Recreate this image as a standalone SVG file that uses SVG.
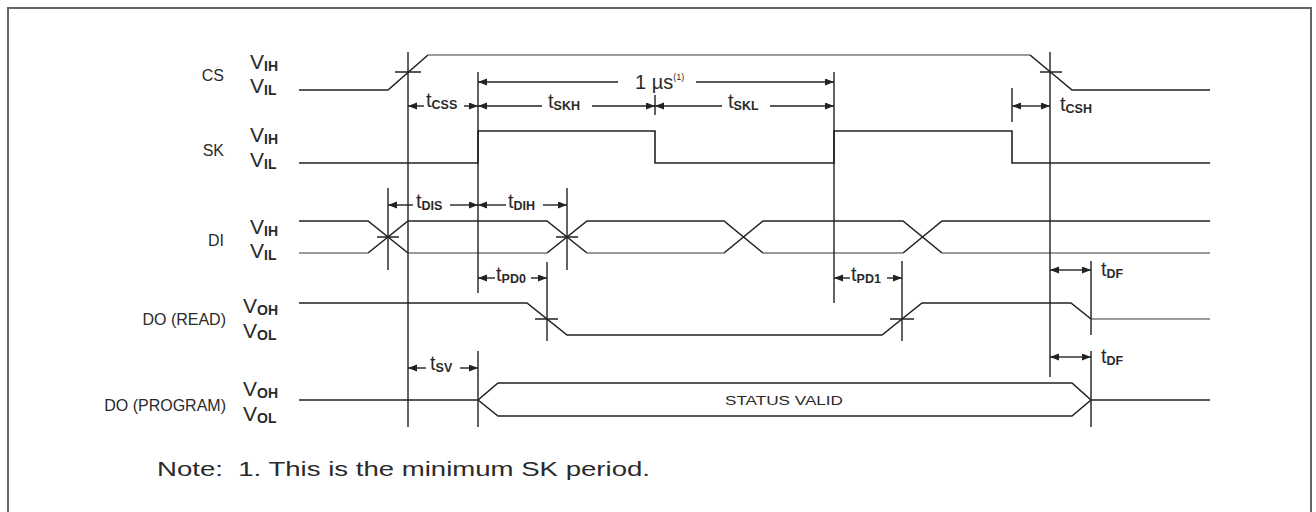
<svg xmlns="http://www.w3.org/2000/svg" width="1316" height="512" viewBox="0 0 1316 512">
<style>
  .sig{fill:none;stroke:#222;stroke-width:1.6;stroke-linejoin:miter}
  .gry{fill:none;stroke:#7a7a7a;stroke-width:1.6}
  .ref{fill:none;stroke:#222;stroke-width:1.4}
  .arr{fill:none;stroke:#222;stroke-width:1.4;marker-end:url(#ah)}
  .lbl{font-family:"Liberation Sans",Arial,sans-serif;font-size:16px;fill:#2a2a2a;text-anchor:end}
  .v{font-family:"Liberation Sans",Arial,sans-serif;font-size:21px;fill:#2a2a2a}
  .vs{font-size:14px;font-weight:bold}
  .t{font-family:"Liberation Sans",Arial,sans-serif;font-size:20px;fill:#2a2a2a}
  .ts{font-size:12.5px;font-weight:bold}
  .note{font-family:"Liberation Sans",Arial,sans-serif;font-size:21px;fill:#2a2a2a}
  .bus{font-family:"Liberation Sans",Arial,sans-serif;font-size:12.5px;fill:#2a2a2a}
</style>
<defs>
  <marker id="ah" markerUnits="userSpaceOnUse" markerWidth="10" markerHeight="8" refX="9" refY="3.5" orient="auto">
    <path d="M0,0 L9,3.5 L0,7 z" fill="#222"/>
  </marker>
</defs>
<rect x="0" y="0" width="1316" height="512" fill="#fff"/>
<path d="M8,520 V8 H1311 V520" fill="none" stroke="#666" stroke-width="2"/>

<g id="cs">
  <text class="lbl" x="224" y="81">CS</text>
  <text class="v" x="250" y="69">V<tspan class="vs" dy="2">IH</tspan></text>
  <text class="v" x="250" y="93">V<tspan class="vs" dy="2">IL</tspan></text>
  <path class="sig" d="M299,90 H388 L428,55"/>
  <path class="gry" d="M428,55 H1030"/>
  <path class="sig" d="M1030,55 L1072,90 H1210"/>
  <path class="ref" d="M395,72 H421 M1040,72 H1062"/>
</g>

<g id="sk">
  <text class="lbl" x="224" y="156">SK</text>
  <text class="v" x="250" y="142">V<tspan class="vs" dy="2">IH</tspan></text>
  <text class="v" x="250" y="167">V<tspan class="vs" dy="2">IL</tspan></text>
  <path class="sig" d="M299,163 H478 V131 H655 V163 H834 V131 H1012 V163 H1210"/>
</g>

<g id="di">
  <text class="lbl" x="224" y="246">DI</text>
  <text class="v" x="250" y="234">V<tspan class="vs" dy="2">IH</tspan></text>
  <text class="v" x="250" y="258">V<tspan class="vs" dy="2">IL</tspan></text>
  <path class="sig" d="M299,221 H368 L408,253 M368,253 L408,221 H547 L587,253 M547,253 L587,221 H724 L763,253 M724,253 L763,221 H903 L942,253 M903,253 L942,221 H1210"/>
  <path class="gry" d="M299,253 H368 M408,253 H547 M587,253 H724 M763,253 H903 M942,253 H1210"/>
  <path class="ref" d="M377,237 H399 M556,237 H578"/>
</g>

<g id="do-read">
  <text class="lbl" x="226" y="325">DO (READ)</text>
  <text class="v" x="243" y="313">V<tspan class="vs" dy="2">OH</tspan></text>
  <text class="v" x="243" y="338">V<tspan class="vs" dy="2">OL</tspan></text>
  <path class="sig" d="M299,303 H527 L567,335 H882 L922,303 H1071 L1091,319"/>
  <path class="gry" d="M1091,319 H1210"/>
  <path class="ref" d="M535,319 H558 M890,319 H914"/>
</g>

<g id="do-program">
  <text class="lbl" x="226" y="411">DO (PROGRAM)</text>
  <text class="v" x="243" y="396">V<tspan class="vs" dy="2">OH</tspan></text>
  <text class="v" x="243" y="421">V<tspan class="vs" dy="2">OL</tspan></text>
  <path class="sig" d="M299,400 H478 L498,383 H1072 L1091,400 H1210 M478,400 L498,416 H1072 L1091,400"/>
  <text class="bus" x="725" y="405" textLength="118" lengthAdjust="spacingAndGlyphs">STATUS VALID</text>
</g>

<g id="connectors">
  <path class="ref" d="M408,52 V427 M478,72 V293 M478,351 V427 M834,72 V303 M655,95 V115 M1050,52 V377 M1012,88 V122 M388,188 V270 M567,188 V270 M547,262 V341 M902,261 V341 M1091,261 V335 M1091,351 V427"/>
  <!-- 1 us -->
  <line class="arr" x1="618" y1="82" x2="478" y2="82"/>
  <line class="arr" x1="696" y1="82" x2="834" y2="82"/>
  <text class="t" x="635" y="89" font-size="20">1 µs<tspan font-size="9" dy="-9">(1)</tspan></text>
  <!-- tCSS -->
  <line class="arr" x1="424" y1="106" x2="408" y2="106"/>
  <line class="arr" x1="464" y1="106" x2="478" y2="106"/>
  <text class="t" x="426" y="107">t<tspan class="ts" dy="2">CSS</tspan></text>
  <!-- tSKH -->
  <line class="arr" x1="542" y1="106" x2="478" y2="106"/>
  <line class="arr" x1="592" y1="106" x2="655" y2="106"/>
  <text class="t" x="548" y="108">t<tspan class="ts" dy="2">SKH</tspan></text>
  <!-- tSKL -->
  <line class="arr" x1="722" y1="106" x2="655" y2="106"/>
  <line class="arr" x1="770" y1="106" x2="834" y2="106"/>
  <text class="t" x="728" y="108">t<tspan class="ts" dy="2">SKL</tspan></text>
  <!-- tCSH -->
  <line class="arr" x1="1030" y1="106" x2="1012" y2="106"/>
  <line class="arr" x1="1030" y1="106" x2="1050" y2="106"/>
  <text class="t" x="1060" y="111">t<tspan class="ts" dy="2">CSH</tspan></text>
  <!-- tDIS -->
  <line class="arr" x1="413" y1="205" x2="388" y2="205"/>
  <line class="arr" x1="450" y1="205" x2="478" y2="205"/>
  <text class="t" x="416" y="208">t<tspan class="ts" dy="2">DIS</tspan></text>
  <!-- tDIH -->
  <line class="arr" x1="506" y1="205" x2="478" y2="205"/>
  <line class="arr" x1="543" y1="205" x2="567" y2="205"/>
  <text class="t" x="508" y="208">t<tspan class="ts" dy="2">DIH</tspan></text>
  <!-- tPD0 -->
  <line class="arr" x1="495" y1="278" x2="478" y2="278"/>
  <line class="arr" x1="531" y1="278" x2="547" y2="278"/>
  <text class="t" x="496" y="281">t<tspan class="ts" dy="2">PD0</tspan></text>
  <!-- tPD1 -->
  <line class="arr" x1="850" y1="278" x2="834" y2="278"/>
  <line class="arr" x1="887" y1="278" x2="902" y2="278"/>
  <text class="t" x="851" y="281">t<tspan class="ts" dy="2">PD1</tspan></text>
  <!-- tDF read -->
  <line class="arr" x1="1070" y1="270" x2="1050" y2="270"/>
  <line class="arr" x1="1070" y1="270" x2="1091" y2="270"/>
  <text class="t" x="1101" y="276">t<tspan class="ts" dy="2">DF</tspan></text>
  <!-- tSV -->
  <line class="arr" x1="426" y1="368" x2="408" y2="368"/>
  <line class="arr" x1="460" y1="368" x2="478" y2="368"/>
  <text class="t" x="430" y="370">t<tspan class="ts" dy="2">SV</tspan></text>
  <!-- tDF program -->
  <line class="arr" x1="1070" y1="357" x2="1050" y2="357"/>
  <line class="arr" x1="1070" y1="357" x2="1091" y2="357"/>
  <text class="t" x="1101" y="363">t<tspan class="ts" dy="2">DF</tspan></text>
</g>

<text class="note" x="157" y="476" xml:space="preserve" textLength="493" lengthAdjust="spacingAndGlyphs">Note:  1. This is the minimum SK period.</text>
</svg>
